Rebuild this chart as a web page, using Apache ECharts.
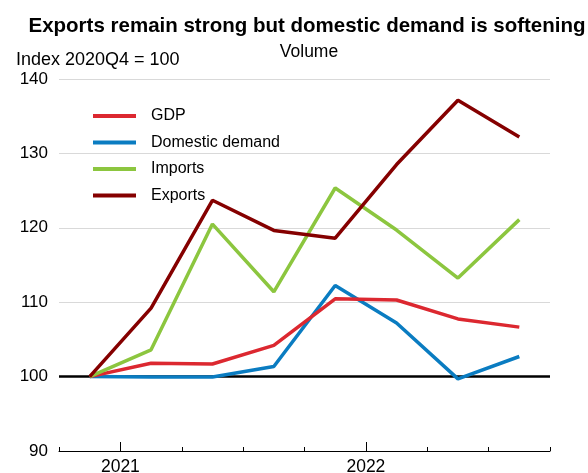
<!DOCTYPE html>
<html><head><meta charset="utf-8">
<script src="https://cdn.jsdelivr.net/npm/echarts@6/dist/echarts.min.js"></script>
<style>html,body{margin:0;padding:0;background:#fff}#c{width:588px;height:473px}</style>
</head><body><div id="c"></div>
<script>
var quarters = ['2020Q4','2021Q1','2021Q2','2021Q3','2021Q4','2022Q1','2022Q2','2022Q3'];
var gdp      = [100, 101.8, 101.7, 104.2, 110.45, 110.3, 107.75, 106.65];
var domestic = [100, 99.95, 99.95, 101.35, 112.25, 107.2, 99.7, 102.7];
var imports  = [100, 103.6, 120.5, 111.4, 125.35, 119.7, 113.25, 121.1];
var exports_ = [100, 109.2, 123.7, 119.65, 118.6, 128.5, 137.15, 132.2];
var yearTicks = [1, 5];
var yearLabels = ['2021', '2022'];

function pts(arr){ return arr.map(function(v,i){ return [i + 0.5, v]; }); }
var FONT = '"Liberation Sans", Arial, sans-serif';
var chart = echarts.init(document.getElementById('c'), null, {renderer:'canvas'});
chart.setOption({
  animation: false,
  textStyle: {fontFamily: FONT},
  title: [
    {text: 'Exports remain strong but domestic demand is softening', left: 302, top: 11, textAlign: 'center',
     textStyle: {fontFamily: FONT, fontSize: 20.5, fontWeight: 'bold', color: '#000'}},
    {text: 'Volume', left: 304, top: 38, textAlign: 'center',
     textStyle: {fontFamily: FONT, fontSize: 17.5, fontWeight: 'normal', color: '#000'}},
    {text: 'Index 2020Q4 = 100', left: 11, top: 46,
     textStyle: {fontFamily: FONT, fontSize: 18, fontWeight: 'normal', color: '#000'}}
  ],
  legend: {
    orient: 'vertical', left: 88, top: 103, itemWidth: 43, itemHeight: 4, itemGap: 10.5,
    icon: 'rect',
    textStyle: {fontFamily: FONT, fontSize: 16, color: '#000', padding: [0,0,0,10]},
    data: ['GDP','Domestic demand','Imports','Exports']
  },
  grid: {left: 59, right: 38, top: 79, bottom: 22, containLabel: false, outerBoundsMode: 'none'},
  xAxis: [
    {type: 'value', min: 0, max: 8, interval: 1,
     axisLine: {show: true, lineStyle: {color: '#000', width: 1}},
     axisTick: {show: true, inside: true, length: 4, lineStyle: {color: '#000'}},
     axisLabel: {show: false}, splitLine: {show: false}},
    {type: 'value', min: 0, max: 8, position: 'bottom',
     axisLine: {show: false},
     axisTick: {show: true, inside: true, length: 9, customValues: yearTicks, lineStyle: {color: '#000'}},
     axisLabel: {show: true, customValues: yearTicks, margin: 7, fontSize: 17.5, color: '#000', fontFamily: FONT,
       formatter: function(v){ var i = yearTicks.indexOf(v); return i >= 0 ? yearLabels[i] : ''; }},
     splitLine: {show: false}}
  ],
  yAxis: {type: 'value', min: 90, max: 140, interval: 10,
    axisLine: {show: false}, axisTick: {show: false},
    axisLabel: {fontSize: 17, color: '#000', fontFamily: FONT, margin: 11},
    splitLine: {show: true, lineStyle: {color: '#d9d9d9', width: 1}}},
  series: [
    {name: 'GDP', type: 'line', data: pts(gdp), symbol: 'none', z: 4,
     lineStyle: {color: '#dc2830', width: 3.5}, itemStyle: {color: '#dc2830'},
     markLine: {silent: true, symbol: 'none', label: {show: false}, z: 3,
       lineStyle: {color: '#000', width: 2.5, type: 'solid'}, data: [{yAxis: 100}]}},
    {name: 'Domestic demand', type: 'line', data: pts(domestic), symbol: 'none', z: 3,
     lineStyle: {color: '#0a7cc1', width: 3.5}, itemStyle: {color: '#0a7cc1'}},
    {name: 'Imports', type: 'line', data: pts(imports), symbol: 'none', z: 5,
     lineStyle: {color: '#8cc63f', width: 3.5}, itemStyle: {color: '#8cc63f'}},
    {name: 'Exports', type: 'line', data: pts(exports_), symbol: 'none', z: 6,
     lineStyle: {color: '#850000', width: 3.5}, itemStyle: {color: '#850000'}}
  ]
});
</script></body></html>
